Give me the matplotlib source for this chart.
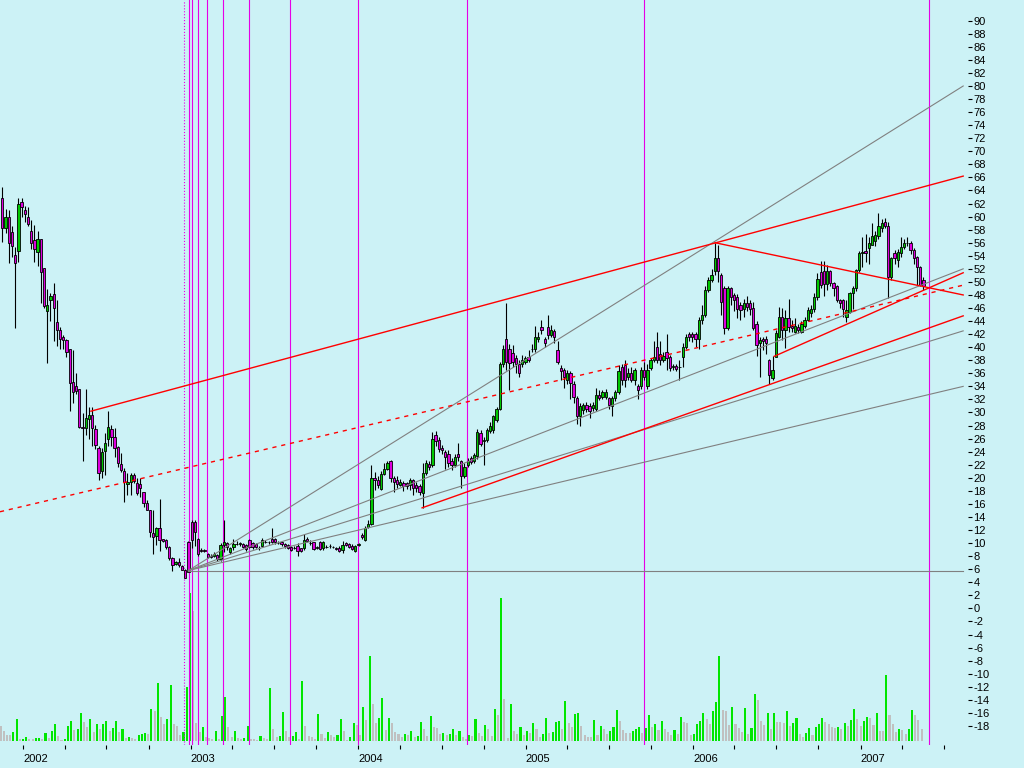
"""
Weekly candlestick chart 2001-2007 with volume, trend lines and a gray fan.
Saves out.png (1024x768).
"""

import datetime as dt
import numpy as np
import matplotlib
matplotlib.use("Agg")
import matplotlib.pyplot as plt
from matplotlib.ticker import FixedLocator, FuncFormatter

plt.rcParams["font.family"] = ["Liberation Sans", "DejaVu Sans"]
plt.rcParams["axes.unicode_minus"] = False

# ---------- DATA ----------

START = dt.date(2001, 11, 16)  # first weekly bar

# weekly bars: (open, high, low, close)
candles_2001_2002 = [
    (62.8, 64.5, 56.1, 58.2), (58.2, 61.1, 57.5, 60.0), (59.9, 61.0, 52.9, 56.0),
    (57.6, 58.5, 53.8, 55.5), (54.1, 55.3, 43.0, 52.9), (54.8, 62.8, 53.0, 61.9),
    (62.2, 62.8, 60.0, 61.4), (61.0, 61.6, 59.1, 60.4), (59.9, 61.5, 58.5, 58.8),
    (57.8, 59.5, 55.0, 55.9), (56.4, 58.7, 53.0, 55.1), (54.6, 57.8, 52.5, 56.5),
    (56.5, 56.6, 46.8, 51.5), (52.1, 52.1, 46.0, 46.3), (45.5, 48.9, 37.6, 46.4),
    (47.3, 48.3, 44.0, 47.8), (48.1, 49.9, 41.0, 46.0), (43.8, 47.2, 40.2, 42.6),
    (42.6, 43.1, 39.8, 41.3), (41.6, 41.9, 39.7, 41.1), (41.1, 41.3, 38.5, 39.3),
    (39.7, 39.7, 30.3, 34.5), (34.7, 39.6, 31.5, 33.1), (34.0, 36.0, 32.9, 33.3),
    (33.6, 33.6, 27.6, 27.8), (27.8, 29.9, 22.5, 27.6), (27.6, 33.6, 26.5, 29.1),
    (29.0, 30.9, 26.0, 29.6), (29.6, 30.9, 24.9, 27.6), (27.4, 28.1, 24.4, 25.0),
    (24.5, 24.8, 19.7, 20.8), (21.1, 24.5, 19.9, 24.0), (24.1, 26.8, 20.5, 25.4),
    (25.9, 30.2, 24.8, 27.8), (27.4, 28.1, 24.8, 26.3), (26.2, 27.7, 23.2, 24.5),
    (24.7, 24.9, 21.6, 22.2), (22.1, 23.8, 20.9, 21.2), (21.0, 21.5, 16.3, 19.3),
    (19.0, 20.7, 17.4, 19.4), (19.4, 20.7, 17.4, 20.5), (20.5, 20.7, 19.2, 19.5),
    (19.2, 19.9, 17.4, 17.7), (19.0, 20.0, 17.1, 18.4), (17.8, 17.9, 15.5, 16.1),
    (16.2, 16.6, 15.1, 15.1), (15.0, 15.1, 11.0, 11.7), (11.5, 15.1, 8.3, 11.0),
    (11.1, 12.4, 9.7, 12.3), (12.3, 16.8, 8.8, 10.5), (10.6, 10.7, 10.1, 10.3),
    (10.5, 10.6, 9.1, 9.4), (9.4, 9.6, 7.4, 7.7), (7.7, 7.9, 5.7, 6.6),
    (6.8, 7.3, 6.6, 7.1), (7.1, 7.7, 6.3, 6.6), (6.5, 6.6, 5.9, 5.9),
    (5.9, 6.1, 4.6, 4.7), (10.2, 10.3, 5.6, 5.6),
]
candles_2003 = [
    (13.2, 13.5, 9.2, 10.5), (13.2, 13.5, 9.6, 11.7), (10.7, 10.8, 8.0, 8.3),
    (9.0, 9.2, 8.6, 8.8), (8.9, 9.1, 8.6, 8.8), (8.3, 8.5, 7.7, 7.8),
    (8.1, 8.3, 7.7, 7.9), (8.1, 8.6, 7.9, 8.3), (8.2, 8.4, 7.3, 7.5),
    (7.5, 10.0, 7.3, 9.7), (9.7, 13.6, 8.7, 10.1), (10.0, 10.2, 9.0, 9.4),
    (8.6, 9.4, 8.4, 9.2), (9.4, 10.6, 9.0, 9.9), (9.9, 10.3, 9.7, 9.85),
    (9.85, 10.2, 9.6, 9.95), (9.9, 10.0, 9.2, 9.4), (9.7, 9.9, 8.8, 9.1),
    (10.5, 10.7, 9.2, 9.4), (10.0, 10.2, 9.1, 9.4), (9.8, 10.0, 9.2, 9.4),
    (9.3, 9.6, 8.9, 9.25), (9.6, 10.8, 9.4, 10.5), (10.2, 10.4, 10.0, 10.15),
    (10.2, 10.3, 9.9, 10.1), (10.7, 12.3, 10.0, 10.2), (10.6, 10.8, 9.9, 10.1),
    (10.0, 10.3, 9.8, 9.95), (10.1, 10.3, 9.6, 9.9), (9.8, 10.0, 9.3, 9.5),
    (9.7, 9.9, 9.1, 9.3), (9.4, 9.6, 8.8, 9.0), (9.3, 9.5, 9.1, 9.25),
    (9.5, 10.0, 8.1, 8.8), (9.2, 9.3, 8.6, 8.8), (9.2, 11.4, 9.0, 10.5),
    (10.7, 10.9, 10.1, 10.3), (10.0, 10.4, 9.7, 9.95), (10.1, 10.2, 9.0, 9.1),
    (9.3, 9.6, 9.1, 9.4), (10.2, 10.3, 9.0, 9.1), (9.2, 10.3, 9.0, 10.2),
    (9.4, 9.7, 9.2, 9.35), (9.6, 9.9, 9.3, 9.55), (9.4, 9.6, 9.2, 9.35),
    (9.2, 9.4, 9.0, 9.15), (9.3, 9.5, 8.6, 8.8), (8.9, 10.3, 8.5, 9.7),
    (10.0, 10.2, 9.5, 9.7), (9.9, 10.0, 9.2, 9.4), (9.6, 9.8, 8.9, 9.1),
    (8.8, 9.7, 8.7, 9.5),
]
candles_2004 = [
    (9.7, 10.0, 9.5, 9.8), (11.3, 11.5, 10.7, 11.0), (10.5, 12.6, 10.3, 12.3),
    (12.5, 13.5, 12.3, 13.0), (13.0, 22.0, 12.8, 19.9), (20.0, 20.9, 18.1, 19.7),
    (19.7, 20.2, 18.4, 18.9), (18.3, 21.0, 18.1, 20.6), (20.6, 22.3, 20.4, 21.4),
    (21.4, 22.6, 21.2, 22.3), (22.5, 22.8, 19.4, 19.9), (19.9, 20.3, 17.9, 19.3),
    (19.7, 20.2, 18.4, 19.0), (18.9, 19.8, 18.7, 19.4), (19.2, 19.5, 18.0, 18.8),
    (19.2, 19.4, 18.3, 18.7), (18.9, 20.0, 18.2, 19.6), (19.6, 19.8, 17.4, 18.4),
    (18.9, 19.3, 17.9, 18.4), (18.7, 19.0, 17.3, 17.9), (17.6, 22.3, 15.3, 20.7),
    (20.7, 22.7, 20.4, 22.2), (22.1, 22.6, 21.2, 21.7), (22.0, 27.0, 21.7, 25.9),
    (26.6, 27.1, 24.9, 25.7), (25.8, 26.3, 23.9, 24.4), (24.5, 25.0, 23.6, 24.2),
    (24.0, 24.3, 21.4, 23.2), (23.7, 24.3, 21.7, 22.2), (22.5, 23.0, 21.2, 21.9),
    (22.0, 23.7, 21.7, 23.2), (23.7, 25.3, 22.5, 23.2), (22.5, 22.7, 18.4, 20.2),
    (20.2, 22.2, 20.0, 21.7), (22.0, 23.0, 21.7, 22.6), (23.0, 23.3, 22.1, 22.4),
    (22.5, 23.8, 22.2, 23.5), (23.4, 27.4, 22.9, 27.0), (26.9, 27.3, 24.9, 25.1),
    (25.6, 26.3, 22.0, 25.8), (25.8, 27.6, 25.5, 27.3), (27.2, 28.6, 26.9, 28.0),
    (27.3, 29.6, 26.9, 29.4), (28.9, 30.8, 28.6, 30.5), (30.6, 37.8, 30.4, 37.5),
    (37.5, 40.3, 37.0, 39.7), (41.2, 46.7, 36.5, 37.8), (39.7, 40.5, 33.4, 37.6),
    (39.1, 40.3, 37.0, 37.8), (38.3, 38.8, 36.0, 37.5), (37.5, 38.0, 35.5, 36.1),
    (37.5, 38.8, 37.0, 38.1), (37.8, 38.6, 37.5, 38.3),
]
candles_2005 = [
    (38.5, 39.6, 37.7, 38.0), (39.7, 40.5, 39.3, 39.8), (39.8, 43.3, 39.3, 41.6),
    (41.2, 42.4, 40.8, 41.6), (43.1, 44.2, 42.0, 42.7), (41.2, 41.6, 40.1, 40.7),
    (43.1, 45.0, 41.3, 41.9), (41.9, 43.4, 41.5, 42.6), (42.5, 42.8, 40.6, 41.5),
    (39.6, 41.0, 37.5, 37.8), (36.8, 37.3, 35.0, 36.3), (36.5, 36.8, 33.8, 35.5),
    (35.0, 36.5, 34.3, 36.1), (36.1, 36.3, 32.0, 34.5), (34.4, 34.8, 31.5, 32.4),
    (32.2, 32.6, 28.3, 29.4), (29.4, 31.5, 28.0, 31.0), (30.4, 31.5, 29.8, 31.1),
    (31.2, 31.6, 30.0, 30.6), (31.0, 31.4, 29.2, 30.3), (30.7, 31.6, 30.2, 31.1),
    (30.6, 33.8, 30.2, 32.7), (32.7, 33.4, 31.9, 32.2), (32.4, 33.5, 32.0, 33.1),
    (32.4, 33.6, 32.0, 33.2), (32.2, 32.4, 30.6, 31.1), (31.0, 32.6, 29.4, 32.2),
    (32.2, 33.5, 31.8, 33.2), (33.2, 37.3, 32.9, 36.3), (37.0, 37.5, 34.2, 35.0),
    (37.3, 38.0, 33.9, 35.0), (35.5, 36.8, 35.0, 36.1), (36.1, 37.0, 34.6, 35.0),
    (35.0, 36.8, 34.2, 36.5), (34.1, 34.4, 32.0, 33.4), (34.0, 37.0, 33.6, 36.5),
    (36.5, 37.8, 35.0, 35.5), (34.0, 37.5, 33.6, 36.5), (36.8, 38.3, 36.5, 38.0),
    (38.0, 41.0, 37.7, 38.5), (40.1, 42.4, 37.6, 38.0), (39.0, 41.0, 37.3, 38.0),
    (38.0, 39.2, 37.7, 38.7), (39.3, 42.0, 36.5, 38.3), (38.5, 38.8, 36.3, 36.8),
    (37.0, 37.5, 36.5, 37.1), (37.1, 37.4, 36.3, 36.7), (36.9, 38.0, 35.0, 37.0),
    (38.5, 40.6, 37.0, 40.1), (40.1, 42.0, 39.8, 41.6), (42.0, 42.4, 41.0, 41.5),
    (42.0, 42.3, 40.8, 41.6),
]
candles_2006 = [
    (42.0, 42.4, 40.0, 41.2), (41.2, 44.7, 39.8, 44.2), (44.2, 46.4, 43.6, 44.9),
    (44.9, 49.3, 44.6, 48.8), (48.8, 50.8, 48.5, 50.3), (50.3, 52.0, 50.0, 51.0),
    (51.6, 56.0, 51.0, 53.6), (53.6, 55.6, 50.0, 51.6), (51.0, 51.3, 45.0, 46.9),
    (49.0, 49.4, 42.0, 42.9), (42.9, 49.3, 42.6, 49.0), (49.0, 49.2, 46.5, 47.7),
    (48.0, 48.3, 45.6, 47.2), (47.7, 48.2, 44.4, 45.9), (46.4, 46.9, 44.2, 45.7),
    (45.9, 47.4, 44.7, 46.7), (46.7, 47.9, 45.5, 46.2), (46.7, 47.2, 45.0, 45.9),
    (46.0, 46.9, 42.6, 43.0), (43.6, 44.0, 38.6, 40.3), (40.6, 41.6, 35.5, 41.1),
    (41.3, 41.6, 39.6, 41.0), (41.2, 41.7, 39.0, 40.6), (38.0, 38.2, 34.4, 35.8),
    (35.3, 38.7, 35.0, 36.5), (38.5, 42.6, 38.5, 42.1), (41.6, 46.2, 41.4, 44.7),
    (44.7, 46.0, 41.1, 42.6), (42.6, 45.7, 39.9, 44.4), (44.4, 47.4, 42.4, 43.1),
    (43.3, 44.2, 42.4, 42.9), (42.4, 44.4, 42.1, 43.3), (43.1, 43.6, 42.1, 42.6),
    (42.4, 44.0, 42.1, 43.6), (43.3, 44.7, 42.9, 44.2), (44.2, 46.2, 44.0, 45.7),
    (45.2, 46.4, 44.7, 45.9), (45.9, 48.3, 45.4, 47.7), (47.7, 51.3, 47.2, 50.5),
    (51.5, 53.2, 49.0, 49.5), (51.6, 53.2, 47.9, 49.7), (49.7, 52.6, 48.8, 51.6),
    (51.6, 51.8, 49.3, 49.9), (49.9, 50.0, 47.9, 49.1), (49.3, 49.6, 46.9, 47.2),
    (47.2, 47.4, 46.0, 46.7), (47.2, 47.4, 44.7, 45.9), (44.7, 47.2, 43.9, 45.7),
    (45.4, 48.5, 45.2, 48.3), (48.3, 49.4, 45.9, 49.1), (49.1, 52.0, 48.6, 51.8),
    (51.8, 54.8, 51.5, 54.4),
]
candles_2007 = [
    (54.4, 56.9, 52.3, 54.6), (54.7, 57.4, 53.0, 54.5), (55.2, 56.9, 52.8, 55.9),
    (55.7, 59.0, 55.7, 57.0), (56.3, 57.8, 55.5, 57.2), (57.0, 60.5, 56.6, 58.5),
    (58.2, 59.6, 57.6, 59.0), (59.1, 59.8, 58.2, 58.6), (58.5, 59.2, 47.5, 50.8),
    (50.8, 53.8, 50.3, 53.6), (54.4, 54.9, 52.8, 53.6), (53.4, 55.0, 52.3, 54.6),
    (54.4, 56.9, 53.8, 55.4), (55.4, 56.6, 55.0, 56.0), (56.0, 56.9, 55.5, 55.9),
    (56.0, 56.2, 54.2, 54.9), (54.9, 55.2, 52.8, 53.6), (53.8, 54.0, 49.6, 52.3),
    (52.3, 52.5, 49.3, 49.6), (50.3, 50.8, 48.8, 49.3),
]

# weekly volume (chart units)
volume_2001_2002 = [
    14.7, 10, 5.7, 5.7, 8.7, 21.7, 1.7, 2.0, 3.7, 1.7,
    1.7, 2.7, 3.0, 1.7, 7.7, 2.7, 10, 16.7, 4.7, 1,
    1.7, 14.7, 19.7, 10.7, 11.7, 27.7, 19, 13.7, 21.7, 8.7,
    16.7, 11.7, 16.7, 19.7, 9.7, 12.7, 19.7, 8.7, 11.7, 2.7,
    3.7, 2.7, 2, 5.7, 6.7, 7.7, 6.7, 31.7, 29.7, 57.7,
    23.7, 16.7, 21.7, 55.7, 16.7, 14.7, 5.7, 8.7, 53.7,
]
volume_2003 = [
    147.7, 130, 17.7, 8.7, 13.7, 3.7, 2.7, 1.7, 9.7, 1.7,
    24.7, 43.7, 13.7, 3.7, 9.7, 2.7, 2, 2.7, 14.7, 1.7,
    1.7, 1, 4.7, 2.7, 1.7, 52.7, 11.7, 3.7, 4.7, 28.7,
    9.7, 3.7, 4.7, 8.7, 1.7, 59.7, 14.7, 4.7, 3.7, 1.7,
    26.7, 6.7, 2.7, 8.7, 5.7, 3.7, 5.7, 21.7, 9.7, 1,
    3.7, 17.7,
]
volume_2004 = [
    15.7, 5.7, 33.7, 20.7, 84.7, 36.7, 17.7, 22.7, 42.7, 10.7,
    22.7, 17.7, 8.7, 6.7, 3.7, 6.7, 5.7, 9.7, 3.7, 4.2,
    18.7, 11.7, 4.7, 24.7, 13.7, 12.7, 6.7, 7.2, 5.7, 6.7,
    11.7, 5.7, 9.7, 3.7, 1.7, 5.7, 4.7, 21.7, 7.7, 4.7,
    15.7, 11.7, 4.7, 31.7, 25.7, 142.7, 41.7, 2.7, 36.7, 9.7,
    6.7, 13.7, 5.7,
]
volume_2005 = [
    9.7, 7.7, 17.7, 11.7, 3.7, 6.7, 22.7, 7.7, 8.2, 18.7,
    19.7, 11.7, 39.7, 17.7, 13.7, 26.7, 27.2, 14.7, 5.7, 3.7,
    3.7, 20.7, 5.7, 14.7, 11.7, 6.7, 9.7, 13.7, 30.7, 19.7,
    10.7, 7.7, 7.7, 9.7, 11.7, 13.7, 7.7, 12.7, 25.7, 13.7,
    16.7, 10.7, 19.7, 11.7, 8.7, 5.7, 10.7, 6.7, 23.7, 18.7,
    17.7, 5.7,
]
volume_2006 = [
    6.7, 16.7, 19.7, 27.7, 21.7, 16.7, 29.7, 38.7, 84.7, 30.7,
    29.7, 15.7, 33.7, 16.7, 12.7, 8.7, 32.7, 6.7, 12.7, 46.7,
    40.7, 19.7, 15.7, 27.7, 11.7, 27.7, 18.7, 18.7, 17.7, 29.7,
    14.7, 17.7, 22.7, 6.7, 3.7, 7.7, 12.7, 5.7, 13.7, 16.7,
    22.7, 18.7, 16.7, 13.7, 12.7, 13.2, 11.7, 17.7, 14.7, 20.7,
    31.7, 21.7,
]
volume_2007 = [
    14.7, 19.7, 23.7, 22.7, 15.7, 27.7, 9.7, 9.7, 65.7, 25.7,
    16.7, 8.7, 11.7, 10.7, 6.7, 11.7, 30.7, 25.7, 20.7, 11.7,
]

# vertical event lines
event_dates = ["2002-12-18", "2002-12-28", "2003-01-03", "2003-01-16", "2003-02-06",
               "2003-03-13", "2003-05-09", "2003-08-06", "2004-01-01", "2004-08-26",
               "2005-09-15", "2007-05-31"]

# trend lines: (week0, price0, week1, price1)
red_lines = [(27.6, 30.2, 299.4, 66.2),
             (222.1, 56.0, 299.4, 48.0),
             (240.5, 38.6, 299.4, 51.4),
             (130.8, 15.4, 299.4, 44.8)]
red_dashed = [(-0.72, 14.8, 299.4, 49.5)]
fan_origin = (58.0, 5.8)
fan_end_week = 299.4
fan_end_prices = [80.0, 52.0, 42.5, 34.0, 5.8]

# ---------- STYLE ----------

BG = "#CCF2F6"
UP = "#00C800"
DOWN = "#DD00DD"
VOL_UP = "#00E600"
VOL_DOWN = "#C0C0C0"
EVENT = "#E600E6"
PX_PER_UNIT = 6.53          # price axis: pixels per price unit
VOL_BASE = -20.26           # volume baseline on the price axis
XLIM = (-0.72, 300.9)
YLIM = (-20.92, 93.17)


def week_of(d):
    return (d - START).days / 7.0


def main():
    candles = (candles_2001_2002 + candles_2003 + candles_2004 +
               candles_2005 + candles_2006 + candles_2007)
    volume = np.array(volume_2001_2002 + volume_2003 + volume_2004 +
                      volume_2005 + volume_2006 + volume_2007)
    o, h, l, c = map(np.array, zip(*candles))
    x = np.arange(len(candles))

    fig = plt.figure(figsize=(10.24, 7.68), dpi=100, facecolor=BG)
    ax = fig.add_axes([0, 23 / 768, 968 / 1024, 745 / 768])
    ax.set_facecolor(BG)
    for s in ax.spines.values():
        s.set_visible(False)

    # volume (green when above previous week)
    vcol = [VOL_DOWN] + [VOL_UP if volume[i] > volume[i - 1] else VOL_DOWN
                         for i in range(1, len(volume))]
    ax.bar(x - 0.55, volume / PX_PER_UNIT, bottom=VOL_BASE, width=0.65,
           color=vcol, linewidth=0, zorder=1)

    # event lines
    for k, ds in enumerate(event_dates):
        wx = week_of(dt.date.fromisoformat(ds))
        ax.axvline(wx, color=EVENT, lw=0.8, ls=":" if k == 0 else "-", zorder=2)

    # candles
    ax.vlines(x, l, h, color="black", lw=0.8, zorder=3)
    body_col = np.where(c >= o, UP, DOWN)
    ax.bar(x, c - o, bottom=o, width=0.72, color=body_col,
           edgecolor="black", linewidth=0.6, zorder=4)

    # gray fan + horizontal
    x0, y0 = fan_origin
    for yp in fan_end_prices:
        ax.plot([x0, fan_end_week], [y0, yp], color="#808080", lw=0.8, zorder=5)

    # red trend lines
    for (a, b, cc, d) in red_lines:
        ax.plot([a, cc], [b, d], color="#FF0000", lw=1.0, zorder=6)
    for (a, b, cc, d) in red_dashed:
        ax.plot([a, cc], [b, d], color="#FF0000", lw=1.0,
                ls=(0, (3, 3.5)), zorder=6)

    # y axis on the right
    ax.yaxis.tick_right()
    ax.yaxis.set_major_locator(FixedLocator(np.arange(-18, 91, 2)))
    ax.yaxis.set_major_formatter(FuncFormatter(lambda v, p: f"{int(round(v))}"))
    ax.tick_params(axis="y", direction="out", length=2.9, width=0.8, pad=1,
                   labelsize=8, colors="black")

    # x axis: years + quarters
    years = list(range(2002, 2008))
    ax.set_xticks([week_of(dt.date(y, 1, 1)) for y in years])
    ax.set_xticklabels([str(y) for y in years])
    quarters = [week_of(dt.date(y, m, 1)) for y in range(2002, 2008) for m in (4, 7, 10)]
    quarters = [q for q in quarters if q < XLIM[1]]
    ax.set_xticks(quarters, minor=True)
    ax.tick_params(axis="x", which="both", direction="out", length=2.9, width=0.8,
                   pad=3.6, labelsize=8, colors="black")
    for lbl in ax.get_xticklabels():
        lbl.set_horizontalalignment("left")

    # fix ranges last (set_xticks may widen them)
    ax.set_xlim(*XLIM)
    ax.set_ylim(*YLIM)

    fig.savefig("out.png", dpi=100, facecolor=BG)
    plt.close(fig)


if __name__ == "__main__":
    main()
